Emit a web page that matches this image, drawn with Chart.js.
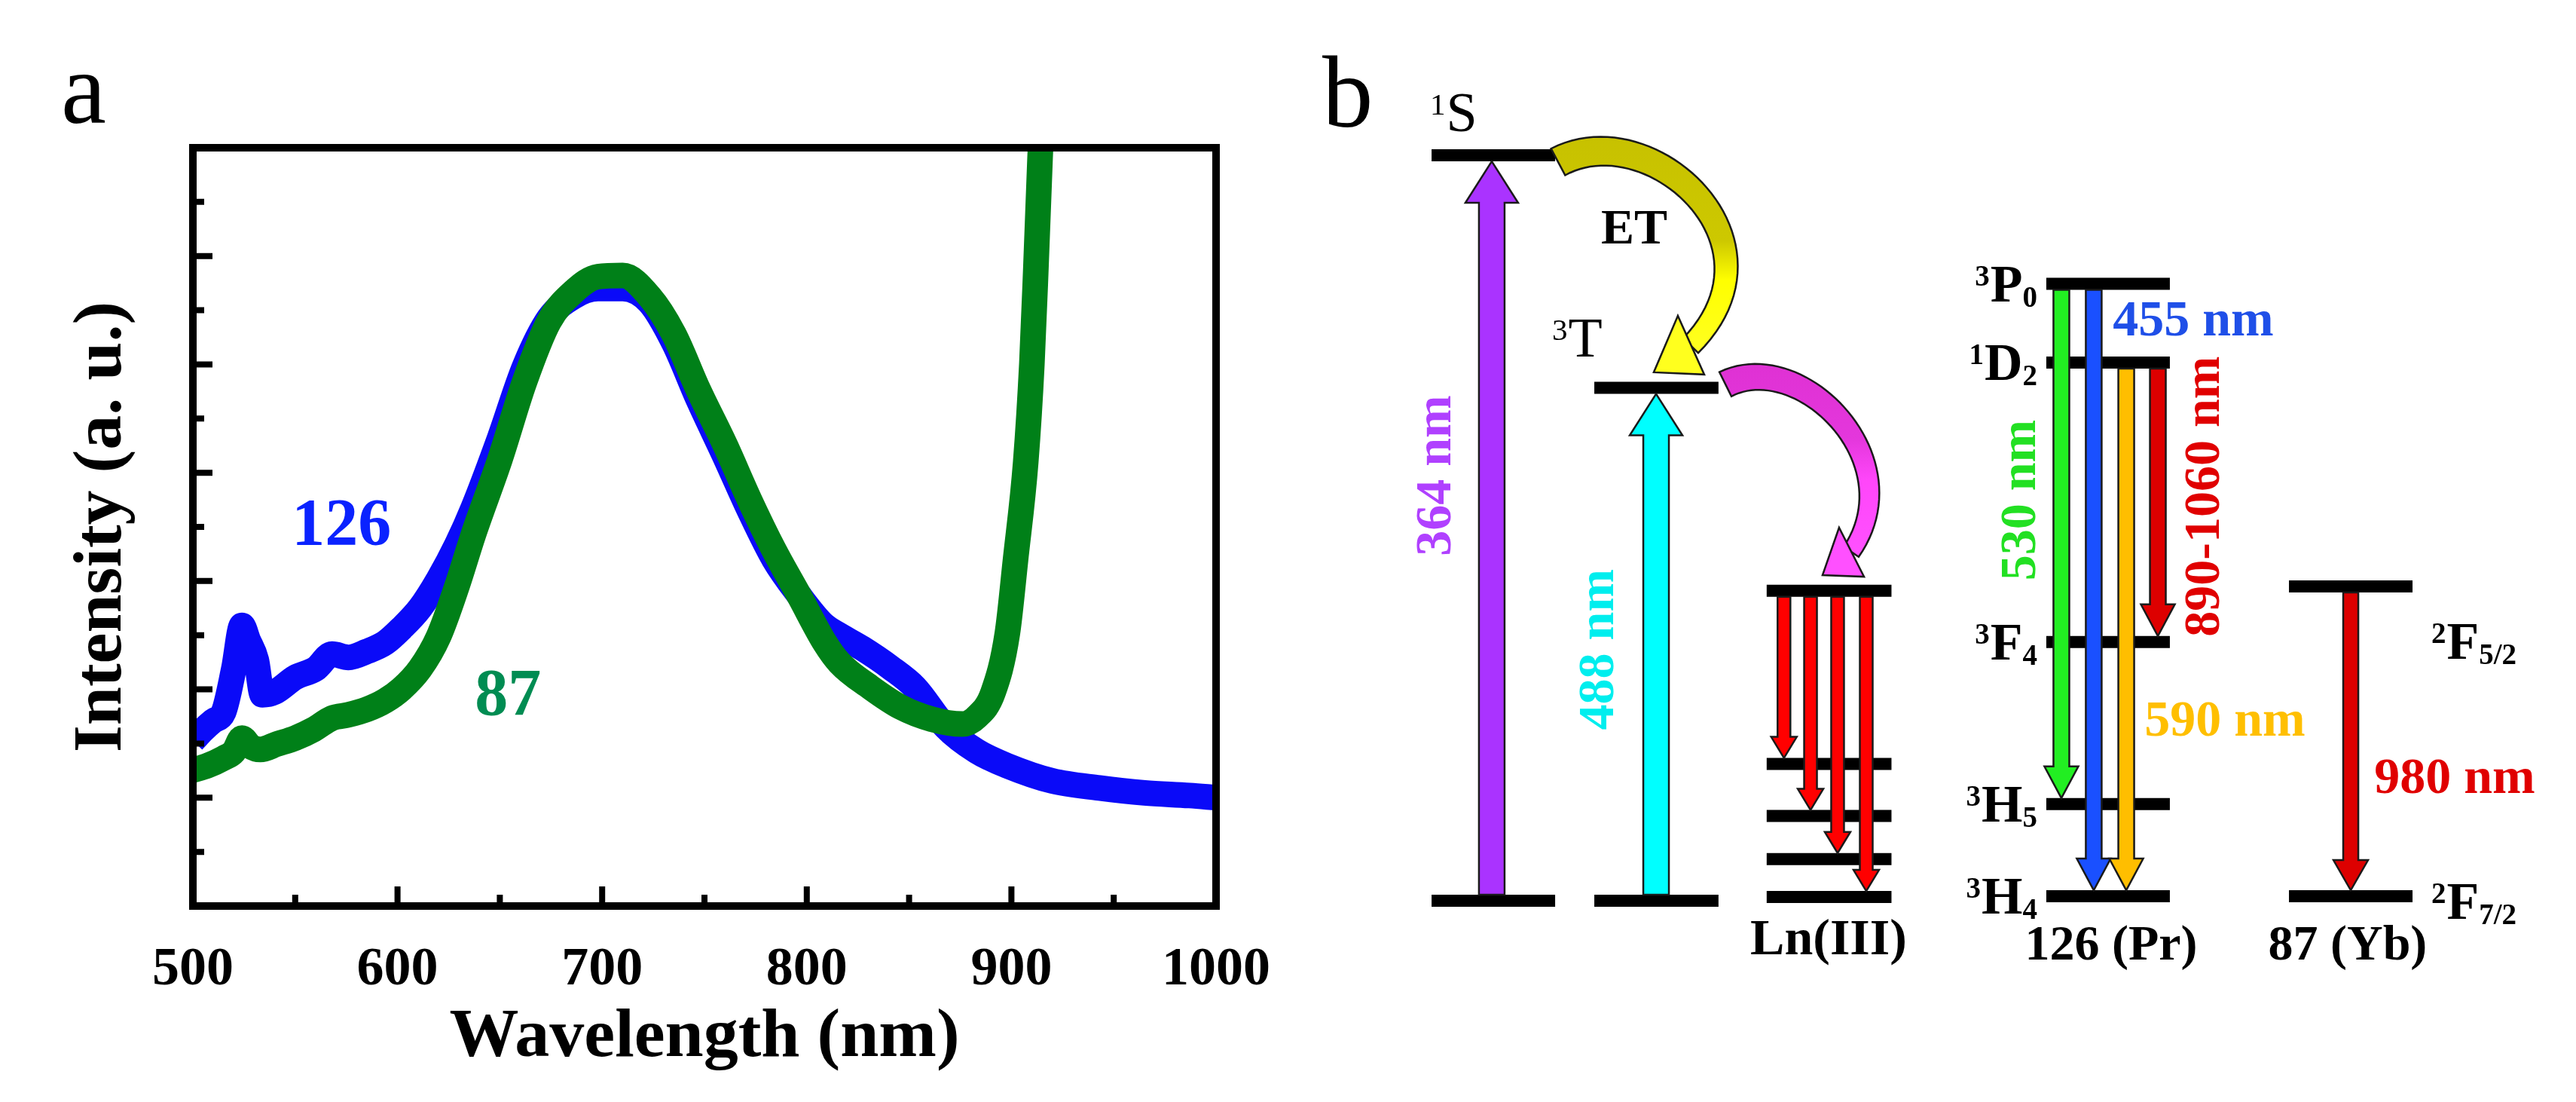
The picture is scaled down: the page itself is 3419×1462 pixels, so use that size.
<!DOCTYPE html>
<html>
<head>
<meta charset="utf-8">
<script src="https://cdn.jsdelivr.net/npm/chart.js@4.4.1/dist/chart.umd.min.js"></script>
<style>
  html, body { margin: 0; padding: 0; background: #fff; }
  #wrap { position: relative; width: 3419px; height: 1462px; overflow: hidden; }
  #spectrum { position: absolute; left: 0; top: 0; }
  #levels { position: absolute; left: 1720px; top: 0; }
</style>
</head>
<body>
<div id="wrap">
  <canvas id="spectrum" width="1720" height="1462"></canvas>
  <canvas id="levels" width="1699" height="1462"></canvas>
</div>
<script>
// ---------- panel a: emission spectra ----------
const wl126 = [500, 505, 510, 515, 520, 524, 527, 531, 534, 540, 550, 560, 568, 576, 585, 594, 602, 611, 620, 629,
  637, 650, 662, 674, 686, 698, 710, 723, 735, 747, 760, 772, 784, 796, 808, 816, 827, 841, 853, 868,
  883, 898, 920, 943, 965, 987, 1000];
const int126 = [3.05, 3.25, 3.42, 3.58, 4.38, 5.18, 4.91, 4.54, 3.90, 3.95, 4.22, 4.38, 4.65, 4.59, 4.70, 4.86, 5.13, 5.50, 6.03, 6.67,
  7.35, 8.65, 9.95, 10.85, 11.25, 11.40, 11.40, 11.15, 10.40, 9.35, 8.30, 7.30, 6.40, 5.75, 5.20, 5.00, 4.76, 4.40, 4.03, 3.30,
  2.86, 2.59, 2.31, 2.18, 2.09, 2.04, 2.00];

const wl87 = [500, 507, 515, 520, 524, 528, 533, 541, 550, 559, 568, 576, 585, 594, 602, 611, 620, 629, 637, 650,
  662, 674, 686, 698, 710, 723, 735, 747, 760, 772, 784, 796, 809, 816, 831, 846, 861, 876, 883, 891,
  898, 902, 907, 910, 912, 914, 917];
const int87 = [2.51, 2.59, 2.73, 2.85, 3.10, 2.95, 2.89, 2.99, 3.10, 3.26, 3.47, 3.53, 3.63, 3.79, 4.01, 4.38, 4.97, 5.90, 6.85, 8.24,
  9.67, 10.79, 11.34, 11.62, 11.64, 11.26, 10.56, 9.53, 8.52, 7.50, 6.57, 5.75, 4.85, 4.49, 4.04, 3.67, 3.45, 3.36, 3.49, 3.94,
  5.03, 6.39, 8.20, 10.01, 11.82, 13.81, 16.5];

const xTickLabels = [500, 600, 700, 800, 900, 1000];

// ---------- panel b: energy levels ----------
const levelIds    = ['S1', 'S0', 'T1', 'T0', 'L4', 'L3', 'L2', 'L1', 'L0', 'P0', 'D2', 'F4', 'H5', 'H4', 'F52', 'F72'];
const levelEnergy = [100, -0.3, 68.7, -0.3, 41.4, 18.1, 11.1, 5.3, 0.2, 82.7, 72.1, 34.5, 12.7, 0.3, 42.0, 0.3];
const levelColumn = [0, 0, 1, 1, 2, 2, 2, 2, 2, 3, 3, 3, 3, 3, 4, 4];
const columnNames = ['', '', 'Ln(III)', '126 (Pr)', '87 (Yb)'];

const transFrom  = ['S0', 'T0', 'L4', 'L4', 'L4', 'L4', 'P0', 'P0', 'D2', 'D2', 'F52'];
const transTo    = ['S1', 'T1', 'L3', 'L2', 'L1', 'L0', 'H5', 'H4', 'H4', 'F4', 'F72'];
const transLabel = ['364 nm', '488 nm', '', '', '', '', '530 nm', '455 nm', '590 nm', '890-1060 nm', '980 nm'];

// ---------- layout / style (not data) ----------
const columnSpan = [[10.98, 20.98], [24.15, 34.2], [38.1, 48.2], [60.73, 70.73], [80.37, 90.37]];
const transX     = [15.85, 29.15, 39.5, 41.65, 43.84, 46.16, 61.95, 64.57, 67.2, 69.76, 85.37];
const transFill  = ['#aa33ff', '#00ffff', '#ff0000', '#ff0000', '#ff0000', '#ff0000', '#22ee22', '#1a50ff', '#ffbe00', '#dd0000', '#dd0000'];
const transSize  = ['big', 'big', 'ln', 'ln', 'ln', 'ln', 'pr', 'pr', 'pr', 'pr', 'yb'];
const arrowDims  = { big: [34, 70, 55], ln: [17, 34, 28], pr: [21, 45, 42], yb: [20, 46, 40] };
const labelColor = ['#b040ff', '#00eeee', '', '', '', '', '#22e022', '#1f4fe8', '#ffbf00', '#e00000', '#e00000'];
const labelPos   = [[11.4, 56.9, -90], [24.57, 33.5, -90], null, null, null, null,
                    [58.72, 53.6, -90], [72.62, 77.5, 0], [75.18, 23.7, 0], [73.6, 54.1, -90], [93.78, 16.0, 0]];

const SERIF = '"Liberation Serif", "Times New Roman", serif';
const BAR = 16;

// ================= panel a =================
const spectrumDeco = {
  id: 'spectrumDeco',
  afterDatasetsDraw(chart) {
    const { ctx, chartArea: a, scales: { x, y } } = chart;
    ctx.save();
    ctx.strokeStyle = '#000';
    ctx.lineWidth = 10;
    ctx.lineJoin = 'miter';
    ctx.strokeRect(a.left, a.top, a.right - a.left, a.bottom - a.top);
    ctx.lineWidth = 8;
    ctx.beginPath();
    x.ticks.forEach(t => {
      if (t.value <= x.min || t.value >= x.max) return;
      const px = x.getPixelForValue(t.value);
      const len = xTickLabels.includes(t.value) ? 26 : 15;
      ctx.moveTo(px, a.bottom);
      ctx.lineTo(px, a.bottom - len);
    });
    y.ticks.forEach(t => {
      if (t.value <= y.min || t.value >= y.max) return;
      const py = y.getPixelForValue(t.value);
      const len = t.value % 2 === 0 ? 26 : 15;
      ctx.moveTo(a.left, py);
      ctx.lineTo(a.left + len, py);
    });
    ctx.stroke();

    ctx.textAlign = 'center';
    ctx.textBaseline = 'middle';
    ctx.font = 'bold 88px ' + SERIF;
    ctx.fillStyle = '#0a22ff';
    ctx.fillText('126', x.getPixelForValue(572.6), y.getPixelForValue(6.99));
    ctx.fillStyle = '#008c52';
    ctx.fillText('87', x.getPixelForValue(654), y.getPixelForValue(3.85));

    ctx.textAlign = 'left';
    ctx.textBaseline = 'alphabetic';
    ctx.fillStyle = '#000';
    ctx.font = '135px ' + SERIF;
    ctx.fillText('a', a.left - 175, a.top - 33);
    ctx.restore();
  }
};

new Chart(document.getElementById('spectrum'), {
  type: 'line',
  data: {
    datasets: [
      {
        label: '87',
        data: wl87.map((v, i) => ({ x: v, y: int87[i] })),
        borderColor: 'rgb(0,128,24)',
        borderWidth: 34,
        pointRadius: 0,
        cubicInterpolationMode: 'monotone',
        clip: 0,
        order: 0
      },
      {
        label: '126',
        data: wl126.map((v, i) => ({ x: v, y: int126[i] })),
        borderColor: 'rgb(10,10,248)',
        borderWidth: 34,
        pointRadius: 0,
        cubicInterpolationMode: 'monotone',
        clip: 0,
        order: 1
      }
    ]
  },
  options: {
    responsive: false,
    devicePixelRatio: 1,
    animation: false,
    layout: { padding: { top: 196, right: 95, left: 0, bottom: 0 } },
    plugins: { legend: { display: false }, tooltip: { enabled: false } },
    scales: {
      x: {
        type: 'linear', min: 500, max: 1000,
        grid: { display: false }, border: { display: false },
        ticks: {
          stepSize: 50, autoSkip: false, maxRotation: 0, padding: 34, color: '#000',
          font: { family: SERIF, weight: 'bold', size: 72 },
          callback: v => xTickLabels.includes(v) ? String(v) : ''
        },
        title: {
          display: true, text: 'Wavelength (nm)', color: '#000',
          font: { family: SERIF, weight: 'bold', size: 92 },
          padding: { top: 0, bottom: 30 }
        },
        afterFit: s => { s.height = 260; }
      },
      y: {
        type: 'linear', min: 0, max: 14,
        grid: { display: false }, border: { display: false },
        ticks: { display: false, stepSize: 1 },
        title: {
          display: true, text: 'Intensity (a. u.)', color: '#000',
          font: { family: SERIF, weight: 'bold', size: 92 },
          padding: { top: 81, bottom: 0 }
        },
        afterFit: s => { s.width = 256; }
      }
    }
  },
  plugins: [spectrumDeco]
});

// ================= panel b =================
const energyOf = id => levelEnergy[levelIds.indexOf(id)];

// curved energy-transfer arrows: start, control1, control2, end of band, head base 1, tip, head base 2 (diagram units)
const transferPaths = [
  { pts: [[21.22, 99.1], [28.66, 105.7], [40.24, 88.4], [31.95, 74.4]], head: [[30.91, 78.4], [28.96, 70.8], [33.05, 70.5]],
    w: [40, 28], stops: [[0, 'rgb(198,192,0)'], [0.55, 'rgb(205,200,0)'], [0.72, 'rgb(255,255,0)'], [1, 'rgb(255,255,30)']], label: 'ET' },
  { pts: [[34.76, 69.2], [40.85, 74.2], [50.0, 59.0], [44.94, 46.65]], head: [[43.96, 49.9], [42.62, 43.5], [45.98, 43.3]],
    w: [36, 24], stops: [[0, 'rgb(222,48,210)'], [0.45, 'rgb(228,55,220)'], [0.65, 'rgb(255,70,250)'], [1, 'rgb(255,80,255)']], label: '' }
];

function richText(ctx, parts, x, y, align, size, weight) {
  const small = Math.round(size * 0.56);
  const fontOf = k => `${weight} ${k ? small : size}px ${SERIF}`;
  let w = 0;
  parts.forEach(([t, k]) => { ctx.font = fontOf(k); w += ctx.measureText(t).width; });
  let cx = align === 'right' ? x - w : align === 'center' ? x - w / 2 : x;
  ctx.textAlign = 'left';
  ctx.textBaseline = 'alphabetic';
  parts.forEach(([t, k]) => {
    ctx.font = fontOf(k);
    const dy = k === 1 ? -size * 0.30 : k === -1 ? size * 0.10 : 0;
    ctx.fillText(t, cx, y + dy);
    cx += ctx.measureText(t).width + (k === 1 ? 1 : 0);
  });
}

function straightArrow(ctx, x, yStart, yTip, dims, fill) {
  const [shaft, head, headLen] = dims;
  const dir = Math.sign(yTip - yStart);
  const yBase = yTip - dir * headLen;
  ctx.beginPath();
  ctx.moveTo(x - shaft / 2, yStart);
  ctx.lineTo(x - shaft / 2, yBase);
  ctx.lineTo(x - head / 2, yBase);
  ctx.lineTo(x, yTip);
  ctx.lineTo(x + head / 2, yBase);
  ctx.lineTo(x + shaft / 2, yBase);
  ctx.lineTo(x + shaft / 2, yStart);
  ctx.closePath();
  ctx.fillStyle = fill;
  ctx.fill();
  ctx.lineWidth = 2.5;
  ctx.strokeStyle = '#1a1a1a';
  ctx.stroke();
}

function curvedArrow(ctx, P, H, w, stops) {
  const bez = (t, i) => {
    const u = 1 - t;
    return u * u * u * P[0][i] + 3 * u * u * t * P[1][i] + 3 * u * t * t * P[2][i] + t * t * t * P[3][i];
  };
  const der = (t, i) => {
    const u = 1 - t;
    return 3 * u * u * (P[1][i] - P[0][i]) + 6 * u * t * (P[2][i] - P[1][i]) + 3 * t * t * (P[3][i] - P[2][i]);
  };
  const left = [], right = [];
  const N = 48;
  for (let k = 0; k <= N; k++) {
    const t = k / N;
    const px = bez(t, 0), py = bez(t, 1);
    const dx = der(t, 0), dy = der(t, 1);
    const L = Math.hypot(dx, dy) || 1;
    const nx = -dy / L, ny = dx / L;
    const hw = (w[0] + (w[1] - w[0]) * t) / 2;
    left.push([px + nx * hw, py + ny * hw]);
    right.push([px - nx * hw, py - ny * hw]);
  }
  const ys = P.map(p => p[1]);
  const g = ctx.createLinearGradient(0, Math.min(...ys), 0, Math.max(...ys));
  stops.forEach(([o, c]) => g.addColorStop(o, c));
  ctx.beginPath();
  left.forEach(([a, b], i) => i ? ctx.lineTo(a, b) : ctx.moveTo(a, b));
  for (let i = right.length - 1; i >= 0; i--) ctx.lineTo(right[i][0], right[i][1]);
  ctx.closePath();
  ctx.fillStyle = g;
  ctx.fill();
  ctx.lineWidth = 2.5;
  ctx.strokeStyle = '#1a1a1a';
  ctx.stroke();
  ctx.beginPath();
  ctx.moveTo(H[0][0], H[0][1]);
  ctx.lineTo(H[1][0], H[1][1]);
  ctx.lineTo(H[2][0], H[2][1]);
  ctx.closePath();
  ctx.fillStyle = stops[stops.length - 1][1];
  ctx.fill();
  ctx.stroke();
}

const levelDeco = {
  id: 'levelDeco',
  afterDatasetsDraw(chart) {
    const { ctx, scales: { x, y } } = chart;
    const X = v => x.getPixelForValue(v);
    const Y = v => y.getPixelForValue(v);
    ctx.save();

    // radiative / absorption arrows
    transFrom.forEach((f, i) => {
      const y0 = Y(energyOf(f)), y1 = Y(energyOf(transTo[i]));
      const dir = Math.sign(y1 - y0);
      straightArrow(ctx, X(transX[i]), y0 + dir * BAR / 2, y1 - dir * BAR / 2, arrowDims[transSize[i]], transFill[i]);
    });

    // energy transfer
    transferPaths.forEach(p => {
      curvedArrow(ctx, p.pts.map(q => [X(q[0]), Y(q[1])]), p.head.map(q => [X(q[0]), Y(q[1])]), p.w, p.stops);
    });

    // wavelength labels
    ctx.font = 'bold 68px ' + SERIF;
    transLabel.forEach((t, i) => {
      if (!t) return;
      const [lx, ly, rot] = labelPos[i];
      ctx.save();
      ctx.translate(X(lx), Y(ly));
      ctx.rotate(rot * Math.PI / 180);
      ctx.fillStyle = labelColor[i];
      ctx.textAlign = 'center';
      ctx.textBaseline = 'middle';
      ctx.fillText(t, 0, 0);
      ctx.restore();
    });

    ctx.fillStyle = '#000';
    // donor state labels
    richText(ctx, [['1', 1], ['S', 0]], X(10.85), Y(103.2), 'left', 74, 'normal');
    richText(ctx, [['3', 1], ['T', 0]], X(20.73), Y(72.9), 'left', 74, 'normal');
    ctx.font = 'bold 66px ' + SERIF;
    ctx.textAlign = 'left';
    ctx.fillText(transferPaths[0].label, X(24.7), Y(88.1));

    // Pr levels (right aligned before the bars)
    const prLabels = [['P0', [['3', 1], ['P', 0], ['0', -1]]], ['D2', [['1', 1], ['D', 0], ['2', -1]]],
                      ['F4', [['3', 1], ['F', 0], ['4', -1]]], ['H5', [['3', 1], ['H', 0], ['5', -1]]],
                      ['H4', [['3', 1], ['H', 0], ['4', -1]]]];
    prLabels.forEach(([id, parts]) => {
      richText(ctx, parts, X(columnSpan[3][0]) - 13, Y(energyOf(id)) + 70 * 0.33, 'right', 70, 'bold');
    });
    // Yb levels
    richText(ctx, [['2', 1], ['F', 0], ['5/2', -1]], X(91.89), Y(34.6) + 70 * 0.33, 'left', 70, 'bold');
    richText(ctx, [['2', 1], ['F', 0], ['7/2', -1]], X(91.89), Y(-0.4) + 70 * 0.33, 'left', 70, 'bold');

    // column captions
    ctx.textAlign = 'center';
    ctx.textBaseline = 'middle';
    ctx.font = '600 68px ' + SERIF;
    ctx.fillText(columnNames[2], X(43.11), Y(-5.7));
    ctx.font = 'bold 66px ' + SERIF;
    ctx.fillText(columnNames[3], X(65.98), Y(-6.5));
    ctx.fillText(columnNames[4], X(85.12), Y(-6.5));

    // panel letter
    ctx.textAlign = 'left';
    ctx.textBaseline = 'alphabetic';
    ctx.font = '135px ' + SERIF;
    ctx.fillText('b', X(2.13), Y(103.85));
    ctx.restore();
  }
};

new Chart(document.getElementById('levels'), {
  type: 'line',
  data: {
    datasets: levelIds.map((id, i) => ({
      label: id,
      data: columnSpan[levelColumn[i]].map(xv => ({ x: xv, y: levelEnergy[i] })),
      borderColor: '#000',
      borderWidth: BAR,
      borderCapStyle: 'butt',
      pointRadius: 0,
      clip: false
    }))
  },
  options: {
    responsive: false,
    devicePixelRatio: 1,
    animation: false,
    layout: { padding: 0 },
    plugins: { legend: { display: false }, tooltip: { enabled: false } },
    scales: {
      x: { type: 'linear', min: 0, max: 103.6, display: false },
      y: { type: 'linear', min: -27.38, max: 120.89, display: false }
    }
  },
  plugins: [levelDeco]
});
</script>
</body>
</html>
